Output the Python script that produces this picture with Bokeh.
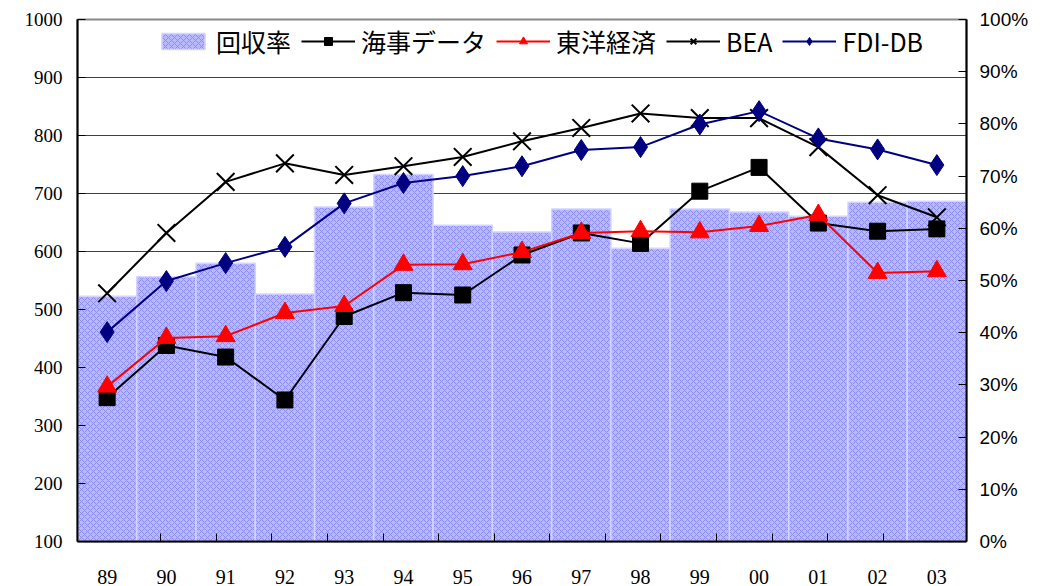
from bokeh.plotting import figure
from bokeh.models import (Range1d, FactorRange, LinearAxis, CategoricalAxis, FixedTicker,
                          NumeralTickFormatter, Legend, LegendItem, ColumnDataSource)
from bokeh.embed import file_html
from bokeh.resources import INLINE

years = ["89", "90", "91", "92", "93", "94", "95", "96", "97", "98", "99", "00", "01", "02", "03"]
recovery_rate = [0.470, 0.507, 0.533, 0.474, 0.641, 0.703, 0.606, 0.593, 0.637, 0.562, 0.637, 0.631, 0.623, 0.650, 0.652]
kaiji_data = [348, 438, 418, 344, 488, 529, 525, 594, 632, 614, 704, 745, 649, 635, 639]
toyo_keizai = [367, 451, 454, 494, 506, 577, 578, 599, 632, 635, 633, 644, 663, 563, 566]
bea = [528, 632, 720, 752, 732, 747, 763, 790, 813, 838, 830, 830, 780, 697, 659]
fdi_db = [461, 549, 580, 608, 683, 718, 730, 747, 775, 780, 819, 842, 795, 776, 749]

src = ColumnDataSource(dict(x=years, rate=recovery_rate, kaiji=kaiji_data, toyo=toyo_keizai,
                            bea=bea, fdi=fdi_db))

NUM_FONT = "Liberation Sans Narrow"

p = figure(width=1046, height=586, x_range=FactorRange(*years), y_range=Range1d(100, 1000),
           output_backend="svg", toolbar_location=None, x_axis_location=None,
           min_border_left=77, min_border_right=80, min_border_top=19, min_border_bottom=44)
p.extra_y_ranges = {"pct": Range1d(0, 1)}
# boundaries between year slots, for the inward tick marks on the category axis
boundary_factors = ["b%d" % i for i in range(1, len(years))]
p.extra_x_ranges = {"bnd": FactorRange(factors=boundary_factors, range_padding=1.0,
                                       range_padding_units="absolute")}

p.outline_line_color = "#888888"
p.outline_line_width = 2
p.xgrid.grid_line_color = None
p.ygrid.grid_line_color = "#404040"
p.ygrid.grid_line_width = 1
p.ygrid.ticker = FixedTicker(ticks=list(range(100, 1001, 100)))

# left axis
ya = p.yaxis[0]
ya.ticker = FixedTicker(ticks=list(range(100, 1001, 100)))
ya.axis_line_color = "black"
ya.axis_line_width = 2
ya.major_tick_in = 8
ya.major_tick_out = 0
ya.minor_tick_line_color = None
ya.major_tick_line_color = "black"
ya.major_label_text_font = NUM_FONT
ya.major_label_text_font_size = "19px"
ya.major_label_text_color = "black"
ya.major_label_standoff = 15

# x axis: boundary ticks (no labels) + category labels
tick_axis = CategoricalAxis(x_range_name="bnd")
tick_axis.axis_line_color = "black"
tick_axis.axis_line_width = 2
tick_axis.major_tick_in = 8
tick_axis.major_tick_out = 0
tick_axis.major_tick_line_color = "black"
tick_axis.major_label_text_font_size = "0px"
tick_axis.major_label_text_alpha = 0
tick_axis.major_label_standoff = 0

xa = CategoricalAxis()
xa.axis_line_color = None
xa.major_tick_line_color = None
xa.major_label_text_font = NUM_FONT
xa.major_label_text_font_size = "20px"
xa.major_label_text_color = "black"
xa.major_label_standoff = 22
p.below = [tick_axis, xa]

# right axis
ra = LinearAxis(y_range_name="pct", ticker=FixedTicker(ticks=[i / 10 for i in range(11)]),
                formatter=NumeralTickFormatter(format="0%"))
ra.axis_line_color = "black"
ra.axis_line_width = 2
ra.major_tick_in = 8
ra.major_tick_out = 0
ra.minor_tick_line_color = None
ra.major_label_text_font = "Liberation Sans"
ra.major_label_text_font_size = "19px"
ra.major_label_text_color = "black"
ra.major_label_standoff = 13
p.add_layout(ra, "right")

# bars
bars = p.vbar(x="x", top="rate", bottom=0, width=1.0, source=src, y_range_name="pct",
              fill_color="#b8b8ff", line_color="#d4d4ff", line_width=1.5,
              hatch_pattern="diagonal_cross", hatch_color="#8c8cf2", hatch_scale=6, hatch_weight=1)

# lines
l1 = p.line("x", "kaiji", source=src, line_color="black", line_width=2)
s1 = p.scatter("x", "kaiji", source=src, marker="square", size=16, fill_color="black", line_color="black")
l2 = p.line("x", "toyo", source=src, line_color="red", line_width=2)
s2 = p.scatter("x", "toyo", source=src, marker="triangle", size=19, fill_color="red", line_color="red")
l3 = p.line("x", "bea", source=src, line_color="black", line_width=2)
s3 = p.scatter("x", "bea", source=src, marker="x", size=25, line_color="black", line_width=2)
l4 = p.line("x", "fdi", source=src, line_color="#000080", line_width=2)
s4 = p.scatter("x", "fdi", source=src, marker="diamond", size=21, fill_color="#000080", line_color="#000080")

legend = Legend(items=[
    LegendItem(label="回収率", renderers=[bars]),
    LegendItem(label="海事データ", renderers=[l1, s1]),
    LegendItem(label="東洋経済", renderers=[l2, s2]),
    LegendItem(label="BEA", renderers=[l3, s3]),
    LegendItem(label="FDI-DB", renderers=[l4, s4]),
], orientation="horizontal", location=(79, 482))
legend.label_text_font = "Noto Sans CJK JP"
legend.label_text_font_size = "25px"
legend.label_text_color = "black"
legend.glyph_width = 54
legend.glyph_height = 20
legend.label_standoff = 6
legend.spacing = 10
legend.padding = 0
legend.margin = 0
legend.border_line_color = None
legend.background_fill_alpha = 0
p.add_layout(legend)

open("out.html", "w").write(file_html(p, INLINE))
